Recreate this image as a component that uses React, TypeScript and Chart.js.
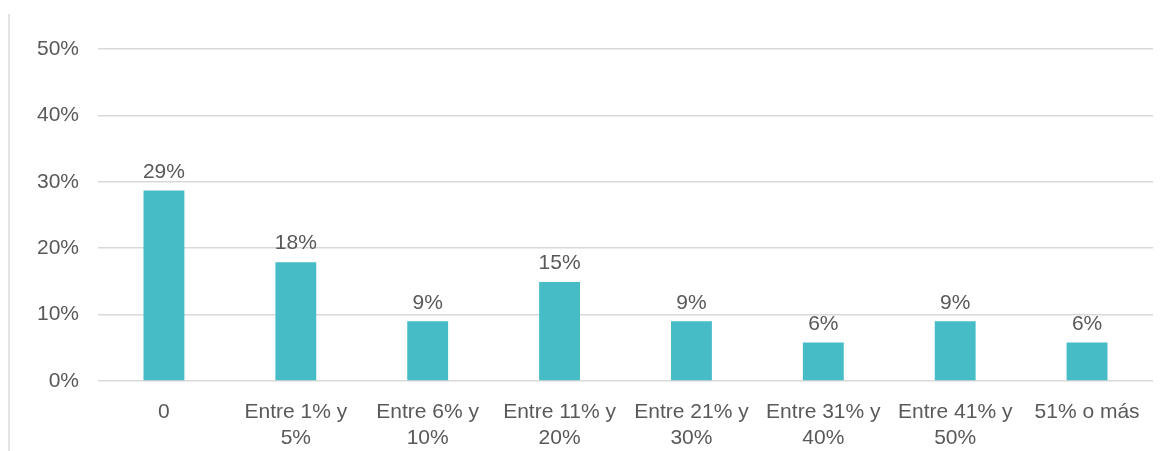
import React, { useEffect, useRef } from "react";
import { Chart, registerables } from "chart.js";

Chart.register(...registerables);

const categories: (string | string[])[] = [
  "0",
  ["Entre 1% y", "5%"],
  ["Entre 6% y", "10%"],
  ["Entre 11% y", "20%"],
  ["Entre 21% y", "30%"],
  ["Entre 31% y", "40%"],
  ["Entre 41% y", "50%"],
  "51% o más",
];
const values: number[] = [28.7, 17.9, 9.0, 14.9, 9.0, 5.8, 9.0, 5.8];
const valueLabels: string[] = ["29%", "18%", "9%", "15%", "9%", "6%", "9%", "6%"];
const yTicks: number[] = [0, 10, 20, 30, 40, 50];

const FONT = "'Liberation Sans', Arial, sans-serif";
const TEXT = "#595959";

const labelPlugin = {
  id: "valueLabels",
  afterDatasetsDraw(chart: any) {
    const ctx = chart.ctx;
    const meta = chart.getDatasetMeta(0);
    ctx.save();
    ctx.font = `21px ${FONT}`;
    ctx.fillStyle = TEXT;
    ctx.textAlign = "center";
    ctx.textBaseline = "bottom";
    meta.data.forEach((bar: any, i: number) => {
      ctx.fillText(valueLabels[i], bar.x, bar.y - 8);
    });
    ctx.restore();
  },
};

export default function App() {
  const ref = useRef<HTMLCanvasElement>(null);
  useEffect(() => {
    document.body.style.margin = "0";
    const chart = new Chart(ref.current!, {
      type: "bar",
      data: {
        labels: categories,
        datasets: [
          {
            data: values,
            backgroundColor: "#46BCC7",
            barPercentage: 0.31,
            categoryPercentage: 1,
          },
        ],
      },
      options: {
        animation: false,
        responsive: false,
        maintainAspectRatio: false,
        layout: { padding: { top: 49, right: 14, left: 0, bottom: 0 } },
        plugins: { legend: { display: false }, tooltip: { enabled: false } },
        scales: {
          x: {
            grid: { display: false },
            border: { display: false },
            ticks: {
              color: TEXT,
              font: { family: FONT, size: 21 },
              padding: 11,
              maxRotation: 0,
              autoSkip: false,
            },
            afterFit(scale: any) {
              scale.height = 70;
            },
          },
          y: {
            min: 0,
            max: 50,
            afterBuildTicks(scale: any) {
              scale.ticks = yTicks.map((v) => ({ value: v }));
            },
            grid: { color: "#d9d9d9", lineWidth: 1.5, drawTicks: false },
            border: { display: false },
            ticks: {
              color: TEXT,
              font: { family: FONT, size: 21 },
              padding: 19,
              callback: (v: any) => `${v}%`,
            },
            afterFit(scale: any) {
              scale.width = 98;
            },
          },
        },
      },
      plugins: [labelPlugin],
    });
    return () => chart.destroy();
  }, []);
  return (
    <div style={{ position: "relative", width: 1167, height: 451 }}>
      <div
        style={{
          position: "absolute",
          left: 8,
          top: 14,
          width: 2,
          height: 437,
          background: "#e3e3e3",
        }}
      />
      <canvas ref={ref} width={1167} height={451} style={{ display: "block" }} />
    </div>
  );
}
